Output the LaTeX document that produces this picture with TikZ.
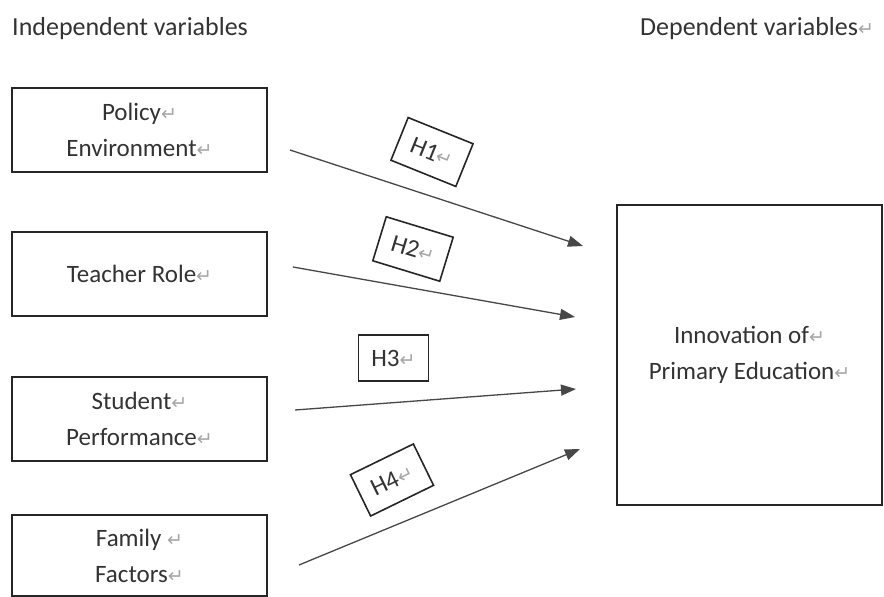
\documentclass[tikz,border=0pt]{standalone}
\usepackage{fontspec}
\setmainfont{Carlito}
\newfontfamily\symfont{DejaVu Sans}
\usetikzlibrary{arrows.meta}
\newcommand\pmk{{\symfont\color{black!35}\fontsize{19}{19}\selectfont ↵}}
\begin{document}
\begin{tikzpicture}[x=1pt,y=-1pt,
  box/.style={draw=black!85,line width=2pt,inner sep=0pt,align=center,text=black!80,font=\fontsize{25}{36}\selectfont},
  hbox/.style={draw=black!85,line width=1.6pt,minimum width=70pt,minimum height=46pt,inner sep=0pt,text=black!80,font=\fontsize{25}{28}\selectfont},
  link/.style={draw=black!72,line width=1.3pt,-{Triangle[length=15pt,width=11pt]}},
  head/.style={text=black!80,font=\fontsize{26}{30}\selectfont,inner sep=0pt,anchor=west}]
\useasboundingbox (0,0) rectangle (884,597);
\fill[white] (0,0) rectangle (884,597);
\clip (0,0) rectangle (884,597);

\node[head] (hind) at (12,29) {Independent variables};
\node[head] (hdep) at (640,29) {Dependent variables\pmk};

\node[box,minimum width=255pt,minimum height=84pt] (policy) at (139.5,130) {Policy\pmk\\Environment\pmk};
\node[box,minimum width=255pt,minimum height=84pt] (teacher) at (139.5,274) {Teacher Role\pmk};
\node[box,minimum width=255pt,minimum height=84pt] (student) at (139.5,419) {Student\pmk\\Performance\pmk};
\node[box,minimum width=255pt,minimum height=81pt] (family) at (139.5,555.5) {Family \pmk\\Factors\pmk};
\node[box,minimum width=265pt,minimum height=300pt] (innov) at (749.5,355) {Innovation of\pmk\\Primary Education\pmk};

\coordinate (s1) at (290,150); \coordinate (e1) at (583,246);
\coordinate (s2) at (293,267); \coordinate (e2) at (575,317);
\coordinate (s3) at (295,410); \coordinate (e3) at (576,389);
\coordinate (s4) at (299,565); \coordinate (e4) at (580,449);

\draw[link] (s1) -- (e1);
\draw[link] (s2) -- (e2);
\draw[link] (s3) -- (e3);
\draw[link] (s4) -- (e4);

\node[hbox,rotate=-22] (h1) at (432,152) {H1\pmk};
\node[hbox,rotate=-17] (h2) at (413,249) {H2\pmk};
\node[hbox] (h3) at (393.5,358) {H3\pmk};
\node[hbox,rotate=26] (h4) at (392,480) {H4\pmk};
\end{tikzpicture}
\end{document}
